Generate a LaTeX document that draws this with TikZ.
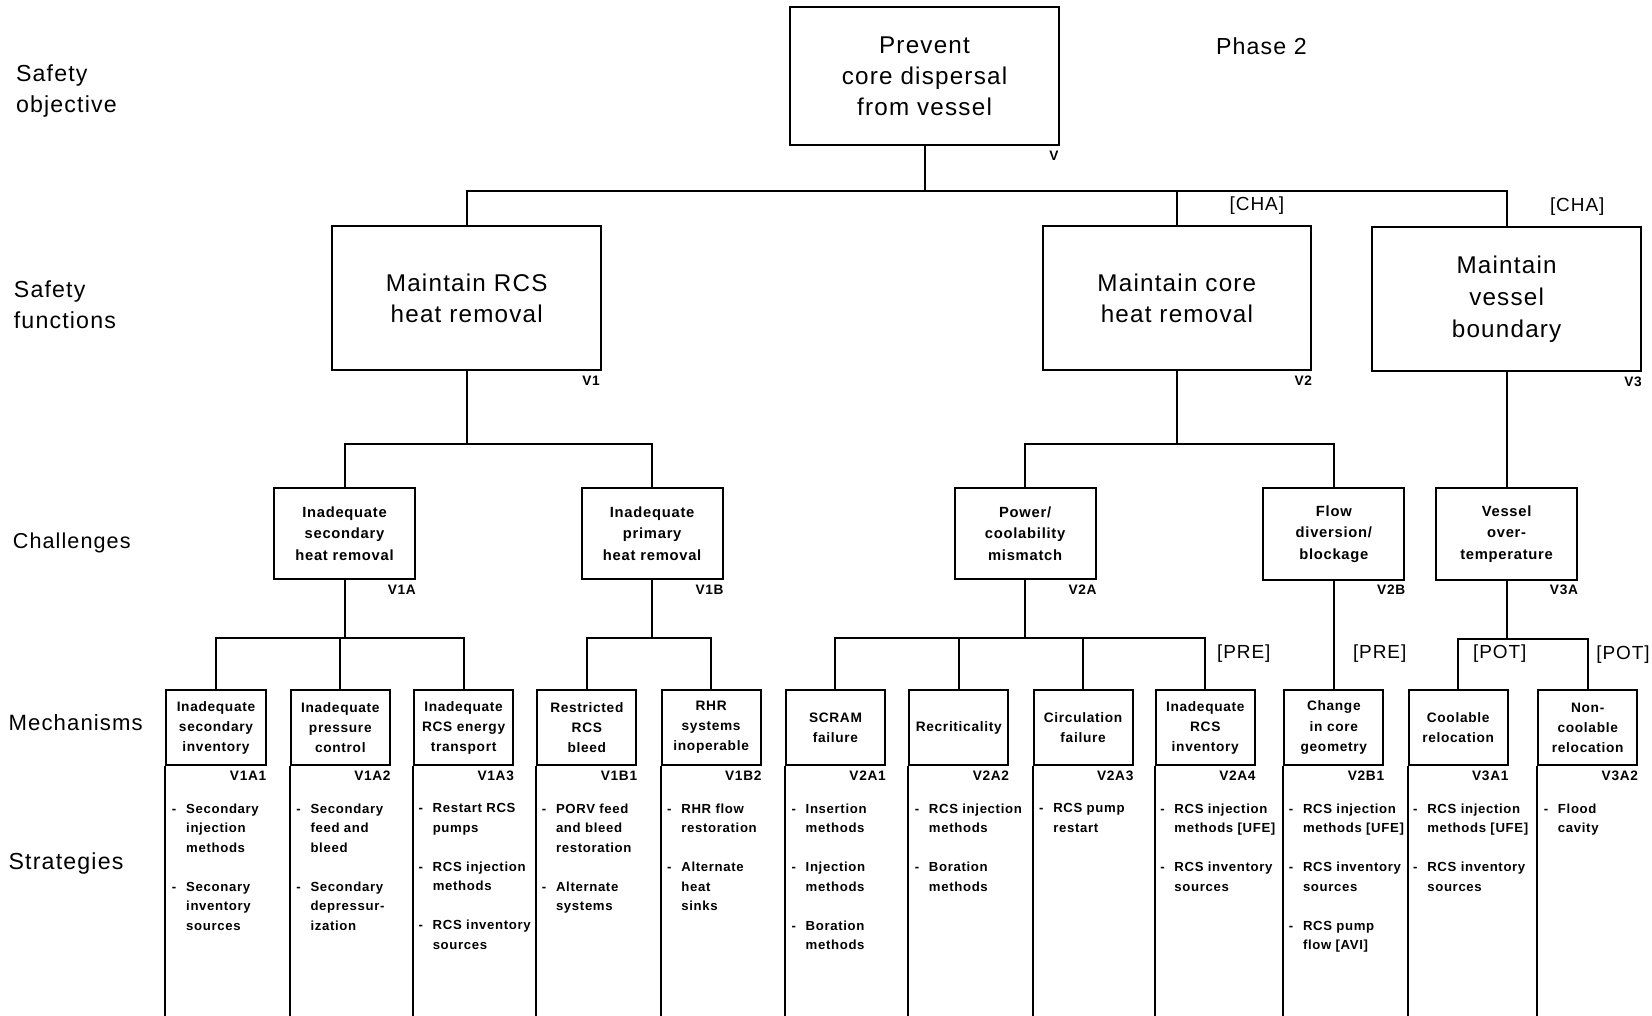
\documentclass[tikz,border=0pt]{standalone}
\usepackage{fontspec}
\setmainfont{Liberation Sans}[LetterSpace=5]
\usetikzlibrary{positioning}
\newcommand{\stratdash}{\makebox[13.5pt][l]{-}}
\newcommand{\stratgap}{\hspace*{13.5pt}}
\tikzset{
  objbox/.style={
    draw,
    line width=1.9pt,
    minimum width=255pt,
    minimum height=131pt,
    align=center,
    font=\fontsize{23}{29.5}\selectfont
  },
  funcbox/.style={
    draw,
    line width=1.9pt,
    minimum width=255pt,
    minimum height=137pt,
    align=center,
    font=\fontsize{23}{30}\selectfont
  },
  chalbox/.style={
    draw,
    line width=1.9pt,
    minimum width=134pt,
    minimum height=87pt,
    align=center,
    inner sep=1pt,
    font=\bfseries\fontsize{14}{20.5}\selectfont
  },
  mechbox/.style={
    draw,
    line width=1.9pt,
    minimum width=94pt,
    minimum height=71pt,
    align=center,
    inner sep=1pt,
    font=\bfseries\fontsize{13}{19}\selectfont
  },
  idtag/.style={inner sep=0pt, font=\bfseries\fontsize{13}{15}\selectfont},
  stratlist/.style={inner sep=0pt, align=left, font=\bfseries\fontsize{12.5}{18.5}\selectfont},
  rowlabel/.style={anchor=west, inner sep=0pt, align=left, font=\fontsize{22}{29.5}\selectfont},
  bracketlabel/.style={anchor=west, inner sep=0pt, font=\fontsize{18}{20}\selectfont},
  wire/.style={line width=1.9pt}
}

\begin{document}
\begin{tikzpicture}[x=1pt, y=-1pt]
  \path[use as bounding box, fill=white] (0,0) rectangle (1568,964);
  \coordinate (floor) at (0,964);

  % row labels
  \node[rowlabel] (lobj) at (15,86.5) {Safety\\objective};
  \node[rowlabel] (lfunc) at (13,289) {Safety\\functions};
  \node[rowlabel, font=\fontsize{20.5}{24}\selectfont] (lchal) at (12,515) {Challenges};
  \node[rowlabel, font=\fontsize{21}{24}\selectfont] (lmech) at (8,686) {Mechanisms};
  \node[rowlabel] (lstrat) at (8,820) {Strategies};
  \node[rowlabel] (phase) at (1154,44) {Phase 2};

  % objective and functions
  \node[objbox] (obj) at (877.5,72.5) {Prevent\\core dispersal\\from vessel};
  \node[funcbox] (v1) at (443,283) {Maintain RCS\\heat removal};
  \node[funcbox] (v2) at (1117,283) {Maintain core\\heat removal};
  \node[funcbox] (v3) at (1430,284) {Maintain\\vessel\\boundary};

  % challenges
  \node[chalbox] (v1a) at (327,506.5) {Inadequate\\secondary\\heat removal};
  \node[chalbox] (v1b) at (619,506.5) {Inadequate\\primary\\heat removal};
  \node[chalbox] (v2a) at (973,506.5) {Power/\\coolability\\mismatch};
  \node[chalbox] (v2b) at (1266,507) {Flow\\diversion/\\blockage};
  \node[chalbox] (v3a) at (1430,507) {Vessel\\over-\\temperature};

  % mechanisms
  \node[mechbox] (v1a1) at (205,690.5) {Inadequate\\secondary\\inventory};
  \node[mechbox] (v1a2) at (323,690.5) {Inadequate\\pressure\\control};
  \node[mechbox] (v1a3) at (440,690.5) {Inadequate\\RCS energy\\transport};
  \node[mechbox] (v1b1) at (557,690.5) {Restricted\\RCS\\bleed};
  \node[mechbox] (v1b2) at (675,690.5) {RHR\\systems\\inoperable};
  \node[mechbox] (v2a1) at (793,690.5) {SCRAM\\failure};
  \node[mechbox] (v2a2) at (910,690.5) {Recriticality};
  \node[mechbox] (v2a3) at (1028,690.5) {Circulation\\failure};
  \node[mechbox] (v2a4) at (1144,690.5) {Inadequate\\RCS\\inventory};
  \node[mechbox] (v2b1) at (1266,690.5) {Change\\in core\\geometry};
  \node[mechbox] (v3a1) at (1384,690.5) {Coolable\\relocation};
  \node[mechbox] (v3a2) at (1507,690.5) {Non-\\coolable\\relocation};

  % id tags
  \node[idtag, below left=4pt and 1pt of obj.south east] (tobj) {V};
  \node[idtag, below left=4pt and 2pt of v1.south east] (tv1) {V1};
  \node[idtag, below left=4pt and 0pt of v2.south east] (tv2) {V2};
  \node[idtag, below left=4pt and 0pt of v3.south east] (tv3) {V3};
  \node[idtag, below left=4pt and 0pt of v1a.south east] (tv1a) {V1A};
  \node[idtag, below left=4pt and 0pt of v1b.south east] (tv1b) {V1B};
  \node[idtag, below left=4pt and 0pt of v2a.south east] (tv2a) {V2A};
  \node[idtag, below left=4pt and 0pt of v2b.south east] (tv2b) {V2B};
  \node[idtag, below left=4pt and 0pt of v3a.south east] (tv3a) {V3A};
  \node[idtag, below left=5pt and 0pt of v1a1.south east] (tv1a1) {V1A1};
  \node[idtag, below left=5pt and 0pt of v1a2.south east] (tv1a2) {V1A2};
  \node[idtag, below left=5pt and 0pt of v1a3.south east] (tv1a3) {V1A3};
  \node[idtag, below left=5pt and 0pt of v1b1.south east] (tv1b1) {V1B1};
  \node[idtag, below left=5pt and 0pt of v1b2.south east] (tv1b2) {V1B2};
  \node[idtag, below left=5pt and 0pt of v2a1.south east] (tv2a1) {V2A1};
  \node[idtag, below left=5pt and 0pt of v2a2.south east] (tv2a2) {V2A2};
  \node[idtag, below left=5pt and 0pt of v2a3.south east] (tv2a3) {V2A3};
  \node[idtag, below left=5pt and 0pt of v2a4.south east] (tv2a4) {V2A4};
  \node[idtag, below left=5pt and 0pt of v2b1.south east] (tv2b1) {V2B1};
  \node[idtag, below left=5pt and 0pt of v3a1.south east] (tv3a1) {V3A1};
  \node[idtag, below left=5pt and 0pt of v3a2.south east] (tv3a2) {V3A2};

  % bracket labels
  \node[bracketlabel] (cha1) at (1167,195) {[CHA]};
  \node[bracketlabel] (cha2) at (1471,196) {[CHA]};
  \node[bracketlabel] (pre1) at (1155,620) {[PRE]};
  \node[bracketlabel] (pre2) at (1284,620) {[PRE]};
  \node[bracketlabel] (pot1) at (1398,620) {[POT]};
  \node[bracketlabel] (pot2) at (1515,621) {[POT]};

  % tree
  \draw[wire] (obj.south) -- ++(0,42) -| (v1.north);
  \draw[wire] (obj.south) -- ++(0,42) -| (v2.north);
  \draw[wire] (obj.south) -- ++(0,42) -| (v3.north);
  \draw[wire] (v1.south) -- ++(0,68.5) -| (v1a.north);
  \draw[wire] (v1.south) -- ++(0,68.5) -| (v1b.north);
  \draw[wire] (v2.south) -- ++(0,68.5) -| (v2a.north);
  \draw[wire] (v2.south) -- ++(0,68.5) -| (v2b.north);
  \draw[wire] (v3.south) -- (v3a.north);
  \draw[wire] (v1a.south) -- ++(0,55) -| (v1a1.north);
  \draw[wire] (v1a.south) -- ++(0,55) -| (v1a2.north);
  \draw[wire] (v1a.south) -- ++(0,55) -| (v1a3.north);
  \draw[wire] (v1b.south) -- ++(0,55) -| (v1b1.north);
  \draw[wire] (v1b.south) -- ++(0,55) -| (v1b2.north);
  \draw[wire] (v2a.south) -- ++(0,55) -| (v2a1.north);
  \draw[wire] (v2a.south) -- ++(0,55) -| (v2a2.north);
  \draw[wire] (v2a.south) -- ++(0,55) -| (v2a3.north);
  \draw[wire] (v2a.south) -- ++(0,55) -| (v2a4.north);
  \draw[wire] (v2b.south) -- (v2b1.north);
  \draw[wire] (v3a.south) -- ++(0,55) -| (v3a1.north);
  \draw[wire] (v3a.south) -- ++(0,55) -| (v3a2.north);

  % strategy columns
  \draw[wire] (v1a1.south west) -- (v1a1.south west |- floor);
  \draw[wire] (v1a2.south west) -- (v1a2.south west |- floor);
  \draw[wire] (v1a3.south west) -- (v1a3.south west |- floor);
  \draw[wire] (v1b1.south west) -- (v1b1.south west |- floor);
  \draw[wire] (v1b2.south west) -- (v1b2.south west |- floor);
  \draw[wire] (v2a1.south west) -- (v2a1.south west |- floor);
  \draw[wire] (v2a2.south west) -- (v2a2.south west |- floor);
  \draw[wire] (v2a3.south west) -- (v2a3.south west |- floor);
  \draw[wire] (v2a4.south west) -- (v2a4.south west |- floor);
  \draw[wire] (v2b1.south west) -- (v2b1.south west |- floor);
  \draw[wire] (v3a1.south west) -- (v3a1.south west |- floor);
  \draw[wire] (v3a2.south west) -- (v3a2.south west |- floor);

  \node[stratlist, below right=35.5pt and 6pt of v1a1.south west] (s1a1)
    {\stratdash Secondary\\\stratgap injection\\\stratgap methods\\[18.5pt]
     \stratdash Seconary\\\stratgap inventory\\\stratgap sources};
  \node[stratlist, below right=35.5pt and 6pt of v1a2.south west] (s1a2)
    {\stratdash Secondary\\\stratgap feed and\\\stratgap bleed\\[18.5pt]
     \stratdash Secondary\\\stratgap depressur-\\\stratgap ization};
  \node[stratlist, below right=35.5pt and 5pt of v1a3.south west] (s1a3)
    {\stratdash Restart RCS\\\stratgap pumps\\[18.5pt]
     \stratdash RCS injection\\\stratgap methods\\[18.5pt]
     \stratdash RCS inventory\\\stratgap sources};
  \node[stratlist, below right=35.5pt and 5pt of v1b1.south west] (s1b1)
    {\stratdash PORV feed\\\stratgap and bleed\\\stratgap restoration\\[18.5pt]
     \stratdash Alternate\\\stratgap systems};
  \node[stratlist, below right=35.5pt and 6pt of v1b2.south west] (s1b2)
    {\stratdash RHR flow\\\stratgap restoration\\[18.5pt]
     \stratdash Alternate\\\stratgap heat\\\stratgap sinks};
  \node[stratlist, below right=35.5pt and 6pt of v2a1.south west] (s2a1)
    {\stratdash Insertion\\\stratgap methods\\[18.5pt]
     \stratdash Injection\\\stratgap methods\\[18.5pt]
     \stratdash Boration\\\stratgap methods};
  \node[stratlist, below right=35.5pt and 6pt of v2a2.south west] (s2a2)
    {\stratdash RCS injection\\\stratgap methods\\[18.5pt]
     \stratdash Boration\\\stratgap methods};
  \node[stratlist, below right=35.5pt and 6pt of v2a3.south west] (s2a3)
    {\stratdash RCS pump\\\stratgap restart};
  \node[stratlist, below right=35.5pt and 5pt of v2a4.south west] (s2a4)
    {\stratdash RCS injection\\\stratgap methods [UFE]\\[18.5pt]
     \stratdash RCS inventory\\\stratgap sources};
  \node[stratlist, below right=35.5pt and 5pt of v2b1.south west] (s2b1)
    {\stratdash RCS injection\\\stratgap methods [UFE]\\[18.5pt]
     \stratdash RCS inventory\\\stratgap sources\\[18.5pt]
     \stratdash RCS pump\\\stratgap flow [AVI]};
  \node[stratlist, below right=35.5pt and 5pt of v3a1.south west] (s3a1)
    {\stratdash RCS injection\\\stratgap methods [UFE]\\[18.5pt]
     \stratdash RCS inventory\\\stratgap sources};
  \node[stratlist, below right=35.5pt and 6pt of v3a2.south west] (s3a2)
    {\stratdash Flood\\\stratgap cavity};
\end{tikzpicture}
\end{document}
